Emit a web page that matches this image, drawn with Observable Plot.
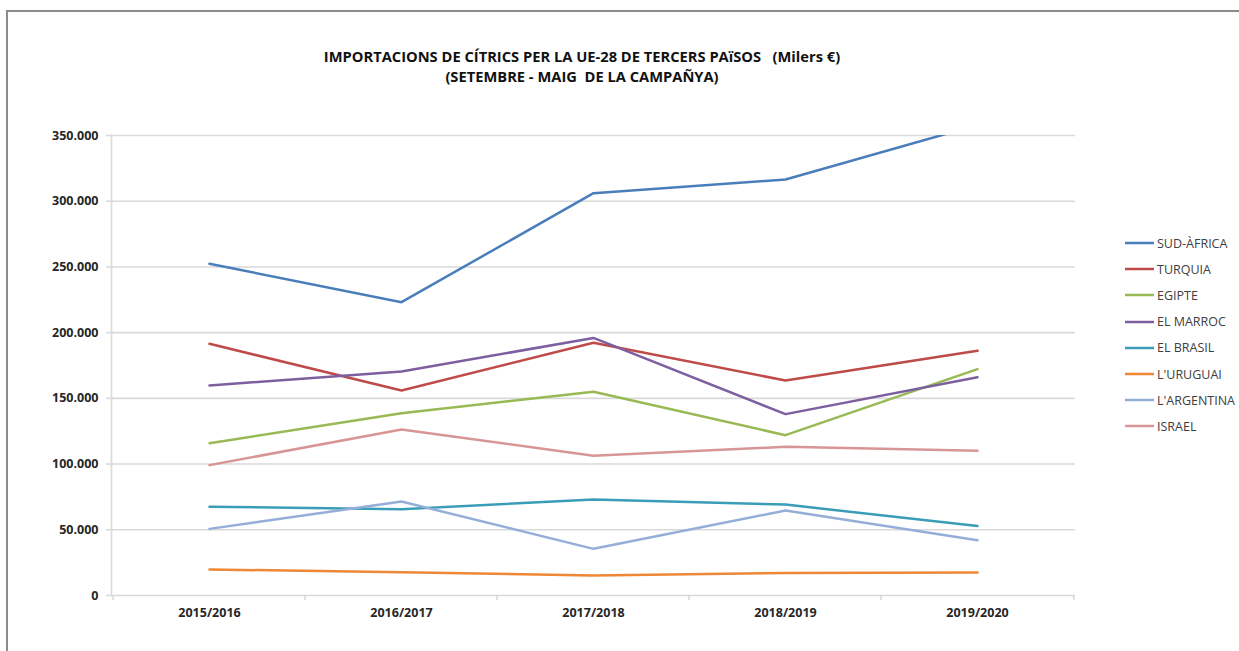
<!DOCTYPE html>
<html>
<head>
<meta charset="utf-8">
<script src="https://cdn.jsdelivr.net/npm/d3@7"></script>
<script src="https://cdn.jsdelivr.net/npm/@observablehq/plot@0.6"></script>
<style>
  html, body { margin: 0; padding: 0; background: #fff; }
  #wrap { position: relative; width: 1239px; height: 651px; overflow: hidden; font-family: "Open Sans", sans-serif; }
  #border { position: absolute; left: 6px; top: 10px; width: 1300px; height: 700px; border-left: 2px solid #8c8c8c; border-top: 2px solid #8c8c8c; box-sizing: border-box; }
  #title { position: absolute; left: 0; width: 1164px; top: 46px; text-align: center; font-family: "Open Sans", sans-serif; font-weight: bold; font-size: 14.7px; line-height: 20px; color: #111; }
  #chart { position: absolute; left: 0; top: 0; }
  #legend { position: absolute; left: 1125px; top: 230px; font-size: 12.5px; color: #404040; }
  .row { height: 26.2px; display: flex; align-items: center; white-space: nowrap; }
  .row svg { margin-right: 3px; }
</style>
</head>
<body>
<div id="wrap">
  <div id="border"></div>
  <div id="title">IMPORTACIONS DE CÍTRICS PER LA UE-28 DE TERCERS PAïSOS&nbsp;&nbsp;&nbsp;(Milers €)<br>(SETEMBRE - MAIG&nbsp; DE LA CAMPAÑYA)</div>
  <div id="chart"></div>
  <div id="legend"></div>
</div>
<script>
const campaigns = ["2015/2016", "2016/2017", "2017/2018", "2018/2019", "2019/2020"];
const seriesNames = ["SUD-ÀFRICA", "TURQUIA", "EGIPTE", "EL MARROC", "EL BRASIL", "L'URUGUAI", "L'ARGENTINA", "ISRAEL"];
const seriesColors = ["#4A7EBB", "#BE4B48", "#98B954", "#7D5FA0", "#3A9DB8", "#EE8736", "#95AED8", "#D89595"];
const sudAfrica  = [252400, 223200, 306100, 316500, 358000];
const turquia    = [191500, 156000, 192300, 163600, 186200];
const egipte     = [115900, 138700, 155000, 122000, 172200];
const elMarroc   = [159800, 170400, 196000, 138000, 166100];
const elBrasil   = [67500, 65700, 73000, 69200, 52800];
const lUruguai   = [19800, 17700, 15200, 17200, 17500];
const lArgentina = [50700, 71500, 35500, 64700, 42100];
const israel     = [99200, 126300, 106300, 113100, 110100];
const yTicks = [0, 50000, 100000, 150000, 200000, 250000, 300000, 350000];

const allSeries = [sudAfrica, turquia, egipte, elMarroc, elBrasil, lUruguai, lArgentina, israel];
const rows = [];
allSeries.forEach((vals, i) => vals.forEach((v, j) => rows.push({serie: seriesNames[i], campanya: campaigns[j], valor: v})));

const W = 1239, H = 651, mL = 111, mR = 164, mT = 135, mB = 56;
const bw = (W - mL - mR) / campaigns.length;
const fmt = d => d3.format(",")(d).replace(/,/g, ".");

const chart = Plot.plot({
  width: W, height: H,
  marginLeft: mL, marginRight: mR, marginTop: mT, marginBottom: mB,
  style: {fontFamily: "'Open Sans', sans-serif", background: "transparent"},
  x: {type: "point", domain: campaigns, padding: 0.5, label: null},
  y: {domain: [0, 350000], label: null},
  color: {domain: seriesNames, range: seriesColors},
  marks: [
    Plot.gridY(yTicks, {stroke: "#d9d9d9", strokeOpacity: 1, strokeWidth: 1.6}),
    Plot.frame({anchor: "left", stroke: "#d9d9d9", strokeWidth: 1.6}),
    Plot.axisY(yTicks, {tickSize: 5, tickPadding: 8, stroke: "#d9d9d9", strokeWidth: 1.6, color: "#262626", fontWeight: "bold", fontSize: 12.5, tickFormat: fmt, label: null}),
    Plot.axisX({tickSize: 5, dx: -bw / 2, stroke: "#d9d9d9", strokeWidth: 1.6, tickFormat: () => "", label: null}),
    Plot.axisX([campaigns[campaigns.length - 1]], {tickSize: 5, dx: bw / 2, stroke: "#d9d9d9", strokeWidth: 1.6, tickFormat: () => "", label: null}),
    Plot.axisX({tickSize: 0, tickPadding: 13, color: "#262626", fontWeight: "bold", fontSize: 12.5, label: null}),
    Plot.line(rows, {x: "campanya", y: "valor", z: "serie", stroke: "serie", strokeWidth: 2.5, clip: true})
  ]
});
document.getElementById("chart").appendChild(chart);

const legend = document.getElementById("legend");
seriesNames.forEach((n, i) => {
  const r = document.createElement("div");
  r.className = "row";
  r.innerHTML = `<svg width="29" height="4"><line x1="0" y1="2" x2="29" y2="2" stroke="${seriesColors[i]}" stroke-width="2.5"/></svg><span>${n}</span>`;
  legend.appendChild(r);
});
</script>
</body>
</html>
